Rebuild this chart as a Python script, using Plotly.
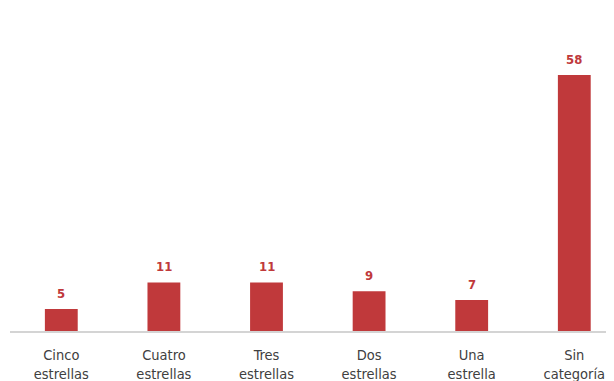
import plotly.graph_objects as go

categories = ["Cinco<br>estrellas", "Cuatro<br>estrellas", "Tres<br>estrellas",
              "Dos<br>estrellas", "Una<br>estrella", "Sin<br>categoría"]
values = [5, 11, 11, 9, 7, 58]

RED = "#C0393B"
NARROW = "Liberation Sans Narrow, DejaVu Sans Condensed, Arial Narrow, sans-serif"

fig = go.Figure()
fig.add_trace(go.Bar(
    x=categories, y=values,
    marker=dict(color=RED, line=dict(width=0)),
    width=0.32,
    hoverinfo="skip",
))

for c, v in zip(categories, values):
    fig.add_annotation(
        x=c, y=v, text=f"<b>{v}</b>", showarrow=False,
        yanchor="bottom", yshift=6,
        font=dict(family=NARROW, size=13, color=RED),
    )

fig.update_layout(
    width=614, height=381,
    margin=dict(l=2, r=0, t=12, b=58),
    paper_bgcolor="white", plot_bgcolor="white",
    showlegend=False,
    xaxis=dict(
        range=[-0.5, 5.465],
        automargin=False,
        showline=True, linecolor="#D4D4D4", linewidth=1.5,
        showgrid=False, ticks="", ticklabelstandoff=10,
        tickfont=dict(family=NARROW, size=14.5, color="#404040"),
        fixedrange=True,
    ),
    yaxis=dict(
        range=[0, 70.46], visible=False, showgrid=False, zeroline=False,
        automargin=False,
    ),
)

fig.write_html("out.html")
